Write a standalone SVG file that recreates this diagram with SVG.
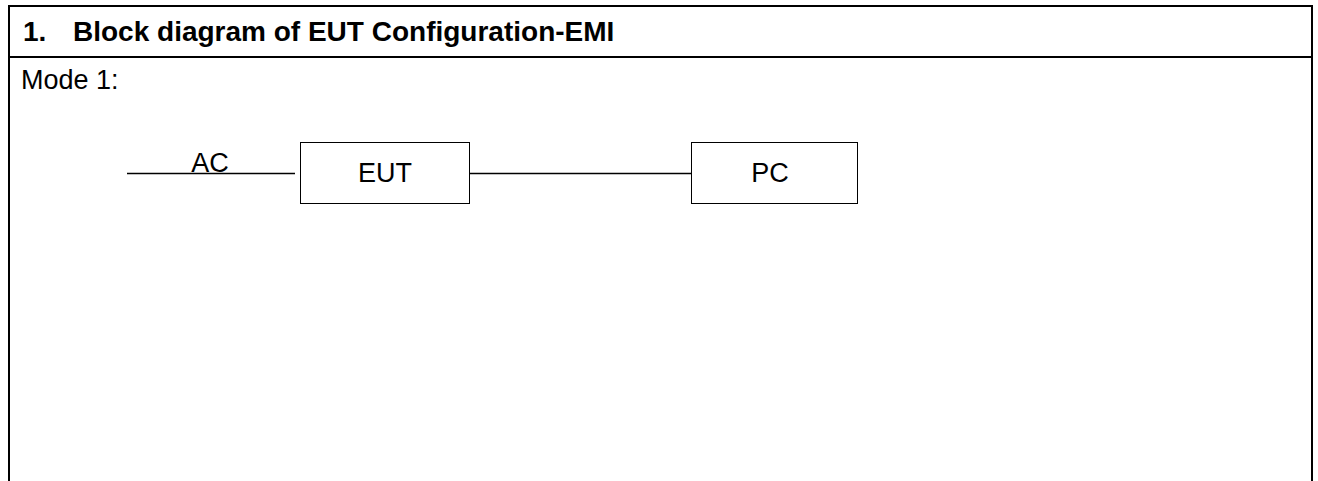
<svg xmlns="http://www.w3.org/2000/svg" width="1318" height="481" viewBox="0 0 1318 481">
<style>
.frame{fill:none;stroke:#000;stroke-width:2}
.box{fill:#fff;stroke:#000;stroke-width:1}
.wire{stroke:#000;stroke-width:1.3;fill:none}
.t{font-family:"Liberation Sans",Arial,sans-serif;font-size:27px;fill:#000}
.b{font-weight:bold;font-size:28px}
</style>
<rect width="1318" height="481" fill="#fff"/>
<g id="frame">
<path class="frame" d="M9,481 V6 H1312 V481 M9,57 H1312"/>
<text class="t b" x="23" y="41">1.</text>
<text class="t b" x="73" y="41">Block diagram of EUT Configuration-EMI</text>
<text class="t" x="21" y="89">Mode 1:</text>
</g>
<g id="connectors">
<line class="wire" x1="127" y1="173.5" x2="295" y2="173.5"/>
<text class="t" x="210" y="172" text-anchor="middle">AC</text>
<line class="wire" x1="469" y1="173.5" x2="691" y2="173.5"/>
</g>
<g id="eut">
<rect class="box" x="300.5" y="142.5" width="169" height="61"/>
<text class="t" x="385" y="182" text-anchor="middle">EUT</text>
</g>
<g id="pc">
<rect class="box" x="691.5" y="142.5" width="166" height="61"/>
<text class="t" x="770" y="182" text-anchor="middle">PC</text>
</g>
</svg>
